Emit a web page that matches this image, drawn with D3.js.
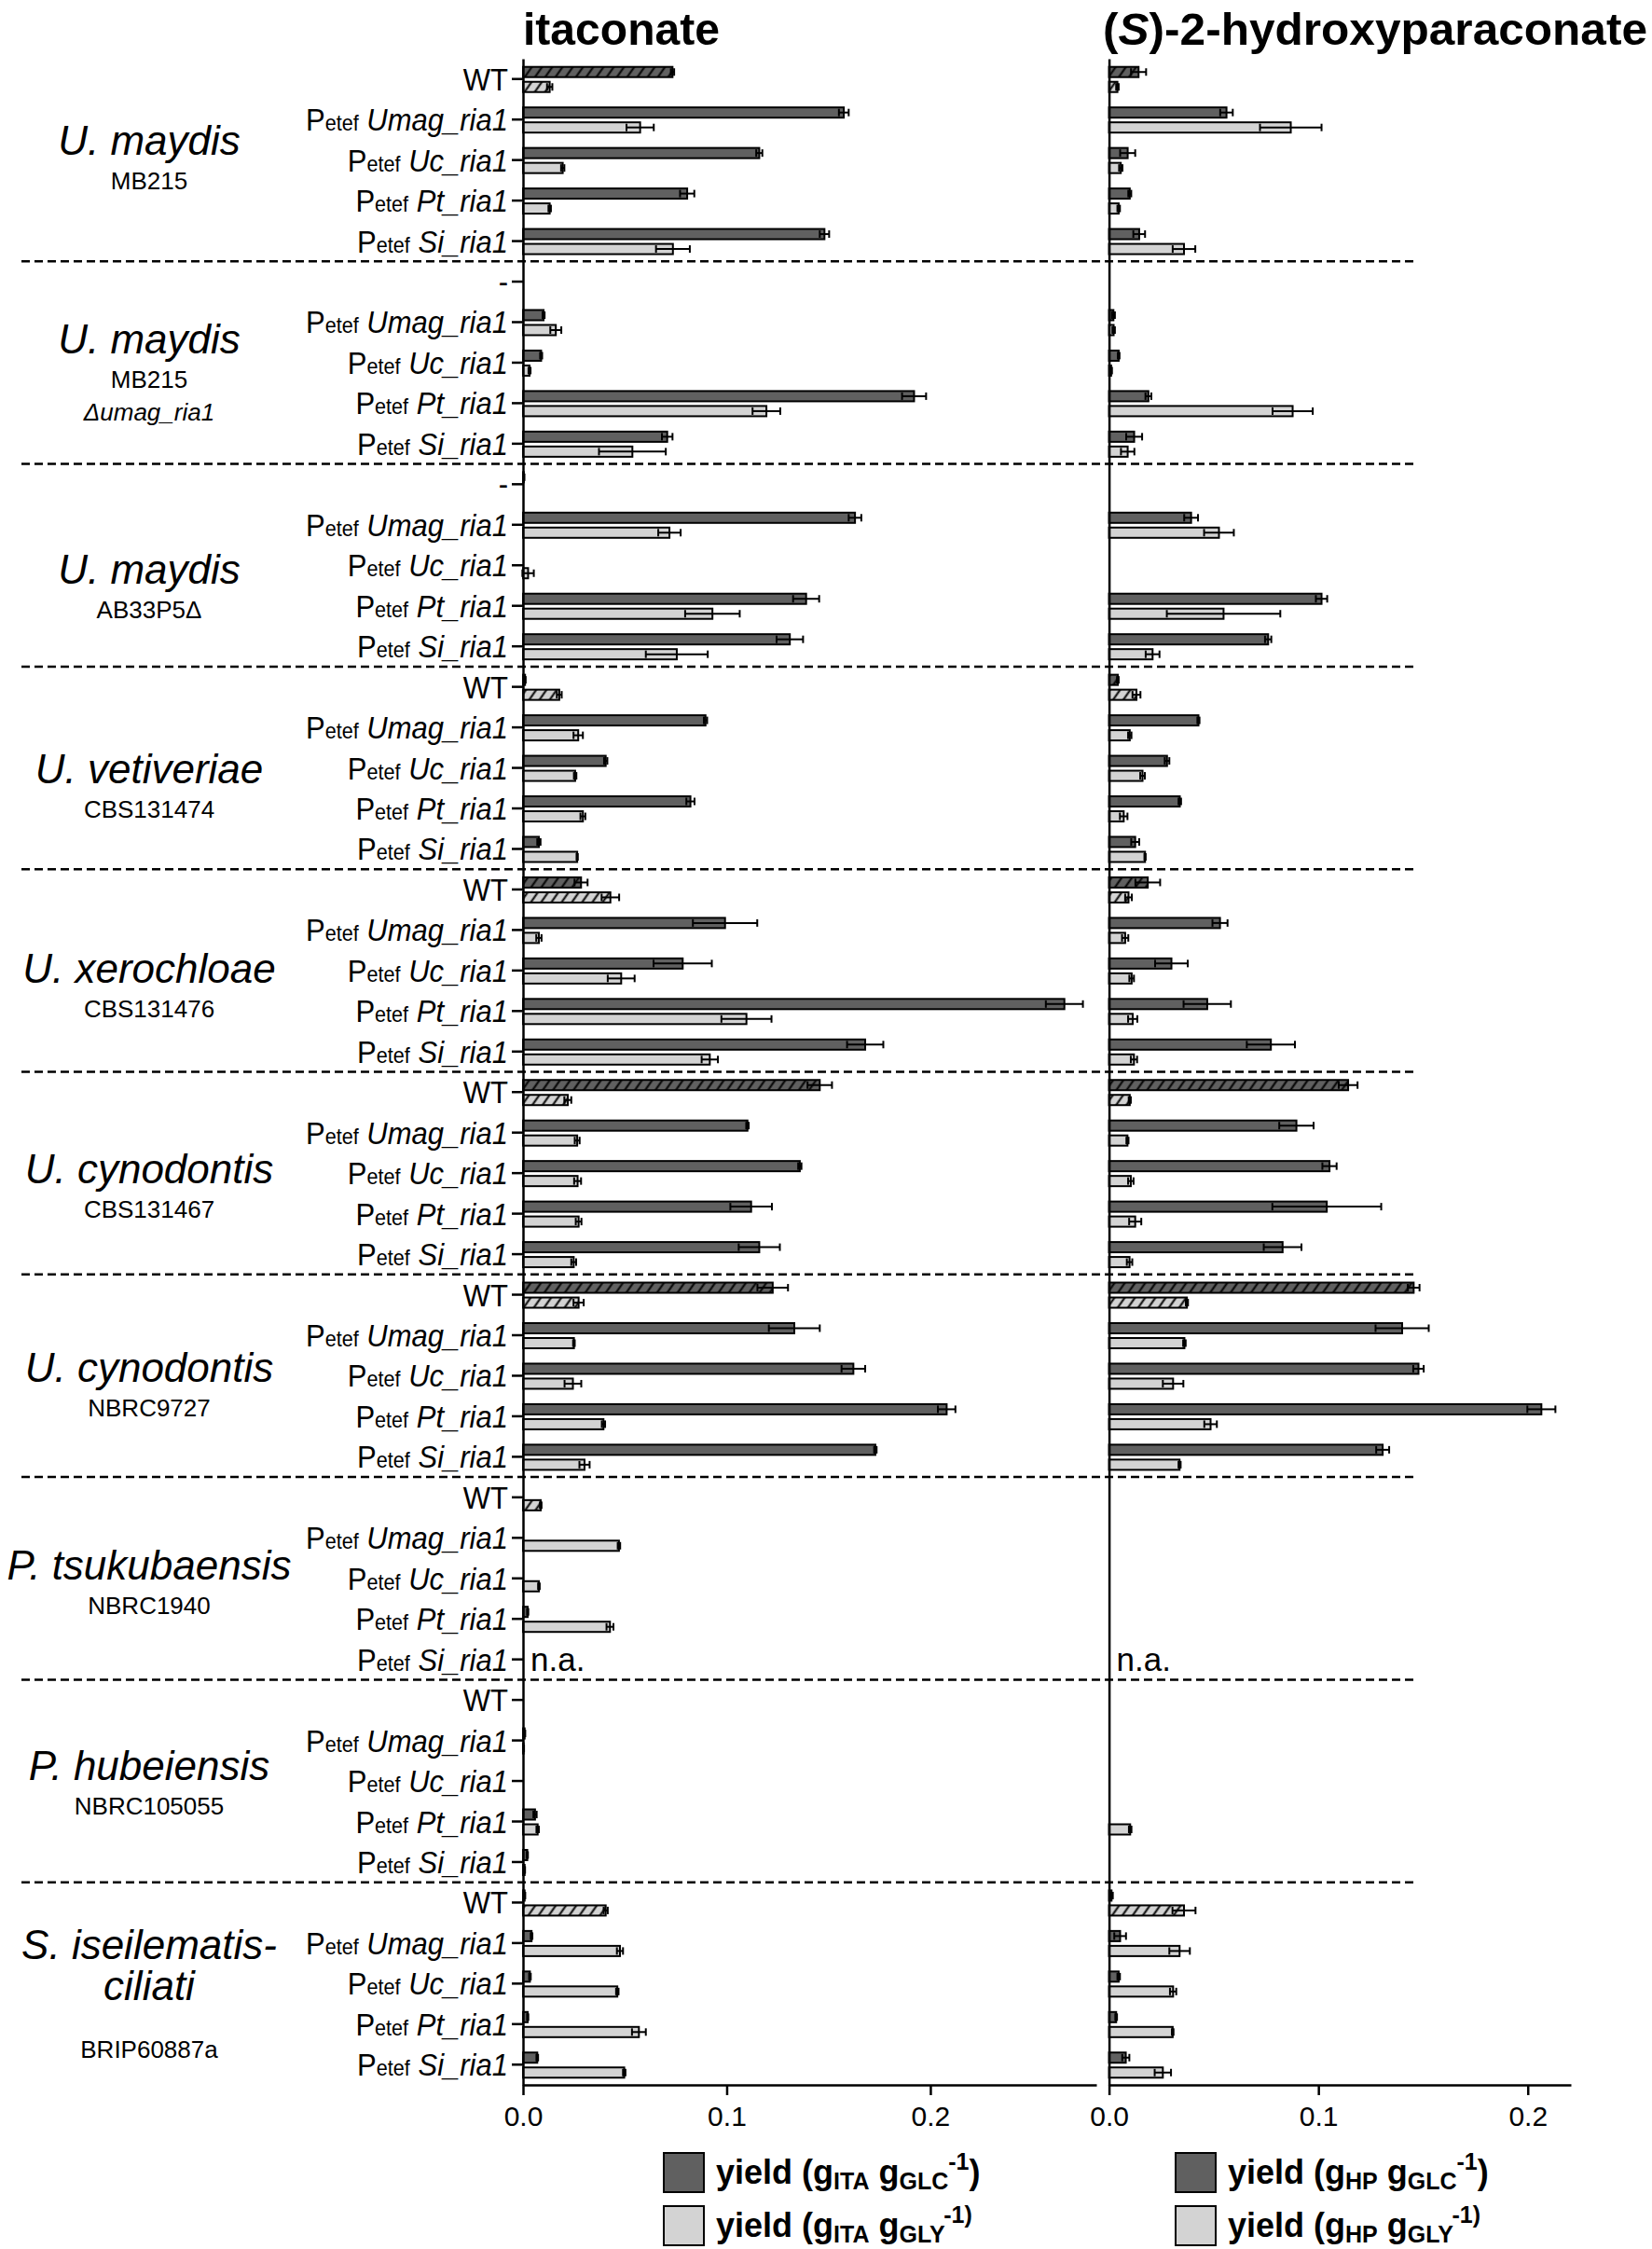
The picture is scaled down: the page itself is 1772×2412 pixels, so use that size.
<!DOCTYPE html>
<html>
<head>
<meta charset="utf-8">
<script src="https://cdn.jsdelivr.net/npm/d3@7"></script>
<style>
  body { margin: 0; background: #fff; }
  text { font-family: "Liberation Sans", Arial, sans-serif; fill: #000; }
</style>
</head>
<body>
<div id="chart"></div>
<script>
// ---- data ----
const speciesLines = [["U. maydis"], ["U. maydis"], ["U. maydis"], ["U. vetiveriae"], ["U. xerochloae"],
  ["U. cynodontis"], ["U. cynodontis"], ["P. tsukubaensis"], ["P. hubeiensis"], ["S. iseilematis-", "ciliati"]];
const strainLines = [["MB215"], ["MB215", "\u0394umag_ria1"], ["AB33P5\u0394"], ["CBS131474"], ["CBS131476"],
  ["CBS131467"], ["NBRC9727"], ["NBRC1940"], ["NBRC105055"], ["BRIP60887a"]];
const firstRow = ["WT", "-", "-", "WT", "WT", "WT", "WT", "WT", "WT", "WT"];
const genes = ["Umag_ria1", "Uc_ria1", "Pt_ria1", "Si_ria1"];
const tickLabels = ["0.0", "0.1", "0.2"];
const naRow = [7, 4]; // group, row

// itaconate, yield on glucose (dark) and glycerol (light)
const itaGlc = [
  [0.0734, 0.1575, 0.116, 0.0806, 0.148],
  [null, 0.0101, 0.0089, 0.192, 0.0708],
  [0.0004, 0.163, null, 0.139, 0.131],
  [0.001, 0.0896, 0.0406, 0.0822, 0.0078],
  [0.0285, 0.0992, 0.0784, 0.2658, 0.168],
  [0.1457, 0.1102, 0.1359, 0.112, 0.116],
  [0.1226, 0.1332, 0.1622, 0.208, 0.173],
  [null, null, null, 0.0023, null],
  [null, 0.0008, null, 0.0059, 0.0021],
  [0.0008, 0.0042, 0.0034, 0.0023, 0.007]].flat();
const itaGlcErr = [
  [0.0008, 0.0024, 0.0015, 0.0035, 0.0023],
  [null, 0.0005, 0.0005, 0.0059, 0.0026],
  [0.0003, 0.0031, null, 0.0064, 0.0065],
  [0.0003, 0.0008, 0.0008, 0.002, 0.0008],
  [0.0032, 0.0158, 0.0143, 0.0091, 0.0089],
  [0.006, 0.0006, 0.0008, 0.0102, 0.0101],
  [0.0075, 0.0125, 0.0058, 0.0043, 0.0006],
  [null, null, null, 0.0003, null],
  [null, 0.0003, null, 0.0008, 0.0003],
  [0.0003, 0.0004, 0.0004, 0.0003, 0.0004]].flat();
const itaGly = [
  [0.0131, 0.0575, 0.0195, 0.0131, 0.0736],
  [null, 0.0161, 0.0032, 0.1195, 0.0537],
  [null, 0.0719, 0.0025, 0.093, 0.0755],
  [0.0178, 0.0271, 0.0256, 0.0294, 0.0266],
  [0.0429, 0.0078, 0.0482, 0.1097, 0.0917],
  [0.022, 0.0266, 0.0268, 0.0273, 0.0249],
  [0.0273, 0.025, 0.0245, 0.0395, 0.0302],
  [0.0087, 0.0471, 0.0078, 0.0427, null],
  [null, 0.0003, null, 0.0072, 0.0008],
  [0.0406, 0.0476, 0.0463, 0.0569, 0.0497]].flat();
const itaGlyErr = [
  [0.0013, 0.0067, 0.0008, 0.0006, 0.0083],
  [null, 0.0027, 0.0005, 0.0068, 0.0164],
  [null, 0.0055, 0.0028, 0.0134, 0.0152],
  [0.0012, 0.0023, 0.0006, 0.0012, 0.0003],
  [0.0043, 0.0013, 0.0066, 0.0123, 0.004],
  [0.0017, 0.0012, 0.0017, 0.0014, 0.0012],
  [0.0025, 0.0004, 0.0041, 0.0008, 0.0025],
  [0.0004, 0.0006, 0.0004, 0.0017, null],
  [null, 0.0002, null, 0.0006, 0.0002],
  [0.001, 0.0015, 0.0006, 0.0034, 0.0006]].flat();

// (S)-2-hydroxyparaconate
const hpGlc = [
  [0.0141, 0.0561, 0.0089, 0.0099, 0.0144],
  [null, 0.0021, 0.0046, 0.0188, 0.012],
  [null, 0.0392, null, 0.1015, 0.076],
  [0.0042, 0.0427, 0.0277, 0.0338, 0.0125],
  [0.0185, 0.053, 0.0298, 0.0469, 0.0773],
  [0.1142, 0.0895, 0.1053, 0.104, 0.0829],
  [0.1455, 0.14, 0.1478, 0.2065, 0.1307],
  [null, null, null, null, null],
  [null, null, null, null, null],
  [0.0012, 0.0053, 0.0046, 0.0034, 0.008]].flat();
const hpGlcErr = [
  [0.0036, 0.003, 0.0036, 0.0007, 0.0028],
  [null, 0.0007, 0.0004, 0.0014, 0.0038],
  [null, 0.0033, null, 0.0027, 0.0015],
  [0.0004, 0.0005, 0.0011, 0.0006, 0.0019],
  [0.0059, 0.0036, 0.0078, 0.0113, 0.0115],
  [0.0045, 0.0082, 0.0034, 0.026, 0.009],
  [0.0028, 0.0127, 0.0025, 0.0067, 0.0031],
  [null, null, null, null, null],
  [null, null, null, null, null],
  [0.0006, 0.0028, 0.0006, 0.0004, 0.0017]].flat();
const hpGly = [
  [0.004, 0.0868, 0.0056, 0.0046, 0.0358],
  [null, 0.0022, 0.001, 0.0877, 0.0089],
  [null, 0.0525, null, 0.0547, 0.0208],
  [0.0131, 0.0099, 0.016, 0.007, 0.0172],
  [0.0093, 0.0077, 0.0108, 0.0113, 0.0119],
  [0.0099, 0.0088, 0.0104, 0.0125, 0.0098],
  [0.0372, 0.036, 0.0306, 0.0485, 0.0337],
  [null, null, null, null, null],
  [null, null, null, 0.0101, null],
  [0.0358, 0.0337, 0.0306, 0.0304, 0.0257]].flat();
const hpGlyErr = [
  [0.0006, 0.0147, 0.0008, 0.0006, 0.0054],
  [null, 0.0006, 0.0004, 0.0096, 0.0032],
  [null, 0.0071, null, 0.0271, 0.0033],
  [0.0019, 0.0008, 0.0011, 0.0018, 0.0003],
  [0.0016, 0.0015, 0.0011, 0.0022, 0.0015],
  [0.0005, 0.0005, 0.0013, 0.0029, 0.0013],
  [0.0005, 0.0006, 0.0049, 0.003, 0.0005],
  [null, null, null, null, null],
  [null, null, null, 0.0006, null],
  [0.0055, 0.0049, 0.0015, 0.0004, 0.0039]].flat();

// ---- layout ----
const width = 1772, height = 2412;
const darkFill = "#606060", lightFill = "#d3d3d3";
// the species names are not placed at the exact middle of each group
const labelShift = [-2, -6, 24, 20, 17, 15, 11, 5, 3, -1];

let rows = [];
firstRow.forEach((f, g) => {
  rows.push({ g: g, r: 0, label: f });
  genes.forEach((gene, k) => rows.push({ g: g, r: k + 1, label: gene }));
});

let svg = d3.select("#chart").append("svg")
  .attr("width", width)
  .attr("height", height);

let defs = svg.append("defs");
function hatch(id, fill) {
  let p = defs.append("pattern")
    .attr("id", id)
    .attr("patternUnits", "userSpaceOnUse")
    .attr("width", 9).attr("height", 9)
    .attr("patternTransform", "rotate(35)");
  p.append("rect").attr("width", 9).attr("height", 9).attr("fill", fill);
  p.append("line").attr("x1", 4.5).attr("x2", 4.5).attr("y1", -1).attr("y2", 10)
    .attr("stroke", "#000").attr("stroke-width", 2);
}
hatch("hatchDark", darkFill);
hatch("hatchLight", lightFill);

let y = d3.scaleBand()
  .domain(d3.range(rows.length))
  .range([63, 2236]);
let yc = i => y(i) + y.bandwidth() / 2;

let xL = d3.scaleLinear().domain([0, 0.2815]).range([561, 1176]);
let xR = d3.scaleLinear().domain([0, 0.2206]).range([1189.6, 1685]);

// group separators
let seps = svg.append("g").attr("class", "separators");
seps.selectAll("line")
  .data(d3.range(1, speciesLines.length))
  .enter().append("line")
  .attr("x1", 23).attr("x2", 1518)
  .attr("y1", g => y(g * 5)).attr("y2", g => y(g * 5))
  .attr("stroke", "#000")
  .attr("stroke-width", 2.5)
  .attr("stroke-dasharray", "9,5");

function drawPanel(x, glc, glcErr, gly, glyErr) {
  let panel = svg.append("g").attr("class", "panel");
  let series = [
    { v: glc, e: glcErr, fill: darkFill, hatch: "url(#hatchDark)", off: -13 },
    { v: gly, e: glyErr, fill: lightFill, hatch: "url(#hatchLight)", off: 3 }
  ];
  let barH = 11;
  series.forEach(s => {
    let idx = d3.range(rows.length).filter(i => s.v[i] != null);
    panel.append("g").selectAll("rect")
      .data(idx)
      .enter().append("rect")
      .attr("x", x(0))
      .attr("y", i => yc(i) + s.off)
      .attr("width", i => x(s.v[i]) - x(0))
      .attr("height", barH)
      .attr("fill", i => rows[i].label === "WT" ? s.hatch : s.fill)
      .attr("stroke", "#000")
      .attr("stroke-width", 2);
    let err = panel.append("g").selectAll("g")
      .data(idx.filter(i => s.e[i] != null))
      .enter().append("g")
      .attr("transform", i => "translate(0," + (yc(i) + s.off + barH / 2) + ")")
      .attr("stroke", "#000")
      .attr("stroke-width", 2);
    err.append("line")
      .attr("x1", i => x(s.v[i] - s.e[i])).attr("x2", i => x(s.v[i] + s.e[i]));
    err.append("line")
      .attr("x1", i => x(s.v[i] - s.e[i])).attr("x2", i => x(s.v[i] - s.e[i]))
      .attr("y1", -4).attr("y2", 4);
    err.append("line")
      .attr("x1", i => x(s.v[i] + s.e[i])).attr("x2", i => x(s.v[i] + s.e[i]))
      .attr("y1", -4).attr("y2", 4);
  });
  // n.a.
  panel.append("text")
    .attr("x", x(0) + 8)
    .attr("y", yc(naRow[0] * 5 + naRow[1]) + 12)
    .attr("font-size", 35)
    .text("n.a.");
  // bottom axis
  let ax = panel.append("g")
    .attr("transform", "translate(0," + y.range()[1] + ")")
    .call(d3.axisBottom(x)
      .tickValues([0, 0.1, 0.2])
      .tickFormat((d, i) => tickLabels[i])
      .tickSize(11)
      .tickSizeOuter(0)
      .tickPadding(12));
  ax.select(".domain").attr("stroke-width", 2.5);
  ax.selectAll(".tick line").attr("stroke-width", 2.5);
  ax.selectAll(".tick text")
    .attr("font-size", 30)
    .attr("font-family", "Liberation Sans, Arial, sans-serif");
  return panel;
}

drawPanel(xL, itaGlc, itaGlcErr, itaGly, itaGlyErr);
drawPanel(xR, hpGlc, hpGlcErr, hpGly, hpGlyErr);

// left y axis with row labels
let yAxis = svg.append("g")
  .attr("transform", "translate(" + xL(0) + ",0)")
  .call(d3.axisLeft(y).tickSize(12).tickSizeOuter(0).tickFormat(""));
yAxis.select(".domain").attr("stroke-width", 2.5);
yAxis.selectAll(".tick line").attr("stroke-width", 2.5);
yAxis.selectAll(".tick").each(function (i) {
  let row = rows[i];
  let t = d3.select(this).append("text")
    .attr("transform", "translate(-16,12) scale(0.94,1)")
    .attr("text-anchor", "end")
    .attr("font-size", 33)
    .attr("fill", "#000");
  if (row.r === 0) {
    t.text(row.label);
  } else {
    t.append("tspan").text("P");
    t.append("tspan").attr("font-size", 23).text("etef");
    t.append("tspan").attr("font-style", "italic").text("\u00a0" + row.label);
  }
});

// right y axis (line only)
let yAxisR = svg.append("g")
  .attr("transform", "translate(" + xR(0) + ",0)")
  .call(d3.axisLeft(y).tickSize(0).tickSizeOuter(0).tickFormat(""));
yAxisR.select(".domain").attr("stroke-width", 2.5);

// species / strain labels
let names = svg.append("g").attr("class", "names").attr("text-anchor", "middle");
speciesLines.forEach((lines, g) => {
  let c = yc(g * 5 + 2) + labelShift[g];
  let n = lines.length;
  let base = c - 4 - (n - 1) * 21.5;
  let sp = names.append("text")
    .attr("y", base)
    .attr("font-size", 44)
    .attr("font-style", "italic");
  lines.forEach((s, k) => {
    sp.append("tspan")
      .attr("x", 160)
      .attr("dy", k === 0 ? 0 : 44)
      .text(s);
  });
  let sBase = base + (n - 1) * 44 + 37 + (n - 1) * 25;
  let st = names.append("text")
    .attr("y", sBase)
    .attr("font-size", 26);
  strainLines[g].forEach((s, k) => {
    st.append("tspan")
      .attr("x", 160)
      .attr("dy", k === 0 ? 0 : 35)
      .attr("font-style", k > 0 ? "italic" : "normal")
      .text(s);
  });
});

// titles (condensed bold face)
svg.append("text")
  .attr("x", 561).attr("y", 48)
  .attr("font-size", 49).attr("font-weight", "bold")
  .attr("textLength", 211).attr("lengthAdjust", "spacingAndGlyphs")
  .text("itaconate");
let t2 = svg.append("text")
  .attr("x", 1183).attr("y", 48)
  .attr("font-size", 49).attr("font-weight", "bold")
  .attr("textLength", 584).attr("lengthAdjust", "spacingAndGlyphs");
t2.append("tspan").text("(");
t2.append("tspan").attr("font-style", "italic").text("S");
t2.append("tspan").text(")-2-hydroxyparaconate");

// legends
function richText(sel, parts) {
  let cur = 0;
  parts.forEach(p => {
    sel.append("tspan")
      .attr("font-size", p.size)
      .attr("dy", p.shift - cur)
      .text(p.t);
    cur = p.shift;
  });
}
function legend(x0, prod) {
  let lg = svg.append("g").attr("class", "legend");
  let items = [
    { fill: darkFill, sub: "GLC", close: false },
    { fill: lightFill, sub: "GLY", close: true }
  ];
  items.forEach((it, k) => {
    let top = 2309 + k * 57;
    lg.append("rect")
      .attr("x", x0).attr("y", top)
      .attr("width", 43).attr("height", 42)
      .attr("fill", it.fill)
      .attr("stroke", "#000").attr("stroke-width", 2);
    let t = lg.append("text")
      .attr("x", x0 + 56).attr("y", top + 33)
      .attr("font-weight", "bold");
    let parts = [
      { t: "yield (g", size: 36, shift: 0 },
      { t: prod, size: 25, shift: 6 },
      { t: " g", size: 36, shift: 0 },
      { t: it.sub, size: 25, shift: 6 }
    ];
    if (it.close) {
      parts.push({ t: "-1)", size: 25, shift: -15 });
    } else {
      parts.push({ t: "-1", size: 25, shift: -15 });
      parts.push({ t: ")", size: 36, shift: 0 });
    }
    richText(t, parts);
  });
}
legend(712, "ITA");
legend(1261, "HP");
</script>
</body>
</html>
